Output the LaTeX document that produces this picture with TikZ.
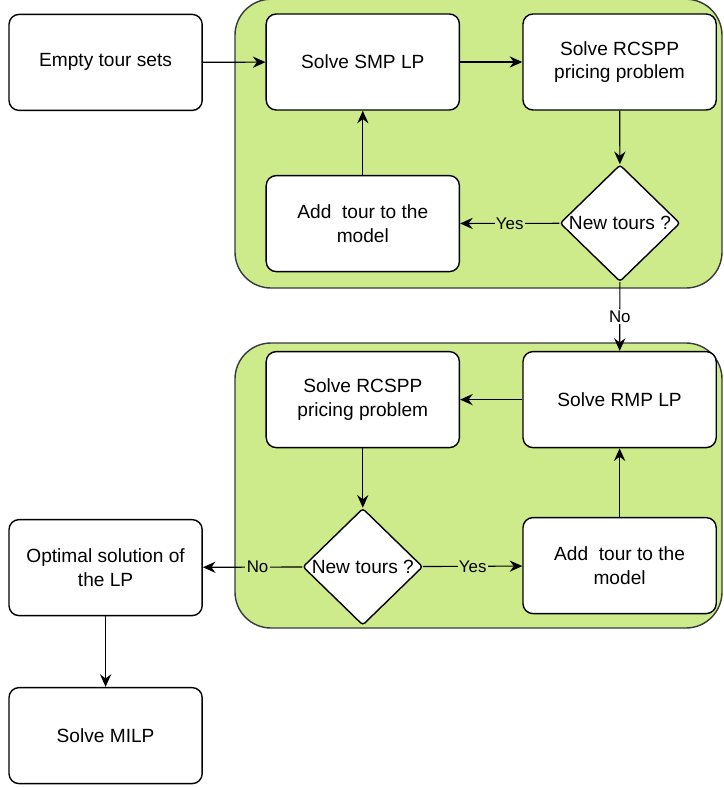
\documentclass[tikz,border=0pt]{standalone}
\usepackage{fontspec}
\setmainfont{Liberation Sans}
\usetikzlibrary{arrows.meta,shapes.geometric,positioning}
\definecolor{grp}{RGB}{205,235,139}
\definecolor{grpline}{RGB}{54,57,61}

\begin{document}
\begin{tikzpicture}[
  font=\fontsize{13.6}{16.5}\selectfont,
  blk/.style={draw, line width=1pt, rounded corners=0.25cm, fill=white,
              minimum width=4.83cm, minimum height=2.4cm, align=center},
  dec/.style={draw, line width=1pt, diamond, rounded corners=2pt, fill=white,
              inner sep=0pt, minimum width=3.0cm, minimum height=2.92cm},
  grpbox/.style={draw=grpline, fill=grp, line width=1pt, rounded corners=0.9cm},
  lbl/.style={font=\fontsize{12}{14}\selectfont, inner sep=1pt},
  pf/.style={-{Stealth[length=9pt, width=8pt, inset=3pt]}, line width=0.8pt}
]
\useasboundingbox (0,0) rectangle (18.1,-19.675);

% Gruppen
\draw[grpbox] (5.875,0.02) rectangle (18.05,-7.2);
\draw[grpbox] (5.875,-8.575) rectangle (18.05,-15.7);

% Start
\node[blk] (empty) at (2.64,-1.56) {Empty tour sets};

% erste Schleife (SMP)
\node[blk] (smp)  at (9.07,-1.55)  {Solve SMP LP};
\node[blk] (rc1)  at (15.49,-1.55) {Solve RCSPP\\pricing problem};
\node[blk] (add1) at (9.07,-5.59)  {Add\ \ tour to the\\model};
\node[dec] (dia1) at (15.5,-5.58)  {New tours ?};

\draw[pf] (empty) -- (smp);
\draw[pf] (smp) -- (rc1);
\draw[pf] (rc1) -- (dia1);
\draw[pf] (dia1) -- node[lbl, fill=grp] {Yes} (add1);
\draw[pf] (add1) -- (smp);

% zweite Schleife (RMP)
\node[blk] (rmp)  at (15.49,-9.99) {Solve RMP LP};
\node[blk] (rc2)  at (9.07,-9.99)  {Solve RCSPP\\pricing problem};
\node[dec] (dia2) at (9.07,-14.17) {New tours ?};
\node[blk] (add2) at (15.49,-14.14) {Add\ \ tour to the\\model};

\draw[pf] (dia1) -- node[lbl, fill=white] {No} (rmp);
\draw[pf] (rmp) -- (rc2);
\draw[pf] (rc2) -- (dia2);
\draw[pf] (dia2) -- node[lbl, fill=grp] {Yes} (add2);
\draw[pf] (add2) -- (rmp);

% Ende
\node[blk] (opt)  at (2.64,-14.19) {Optimal solution of\\the LP};
\node[blk] (milp) at (2.64,-18.39) {Solve MILP};

\draw[pf] (dia2) -- node[lbl, fill=grp, pos=0.45] {No} (opt);
\draw[pf] (opt) -- (milp);

\end{tikzpicture}
\end{document}
